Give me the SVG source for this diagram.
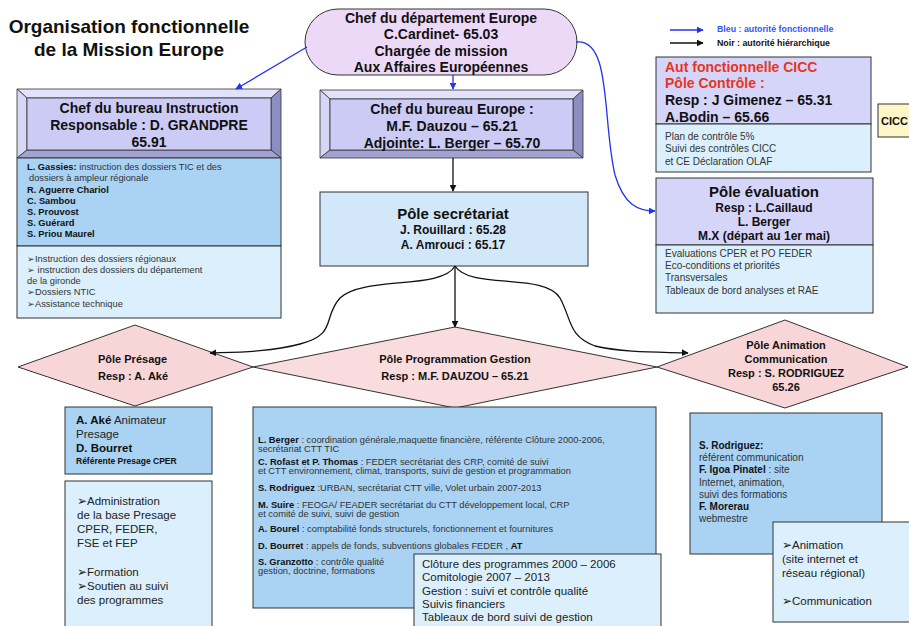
<svg xmlns="http://www.w3.org/2000/svg" width="909" height="626" viewBox="0 0 909 626">
<defs>
<marker id="ab" viewBox="0 0 10 10" refX="9" refY="5" markerWidth="7" markerHeight="7" orient="auto" markerUnits="userSpaceOnUse"><path d="M0,0 L10,5 L0,10 z" fill="#2233ee"/></marker>
<marker id="ak" viewBox="0 0 10 10" refX="9" refY="5" markerWidth="7" markerHeight="7" orient="auto" markerUnits="userSpaceOnUse"><path d="M0,0 L10,5 L0,10 z" fill="#111"/></marker>
</defs>
<style>
text{font-family:"Liberation Sans",Arial,sans-serif;fill:#111}
.b{font-weight:bold}
.h{font-size:14px;font-weight:bold;text-anchor:middle}
.s9{font-size:9.3px;fill:#333}
.s10{font-size:10px;fill:#333}
.s11{font-size:11.5px;fill:#222}
.s8{font-size:9.3px;fill:#333}
.bl{stroke:#2233ee;stroke-width:1.3;fill:none}
.bk{stroke:#111;stroke-width:1.3;fill:none}
.box{stroke:#333;stroke-width:1}
.mid{fill:#a9d2f3}
.lt{fill:#dbf0fc}
.lav{fill:#d5d5fa}
.dia{fill:#f8d6d8;stroke:#333;stroke-width:1}
.bev{stroke:#333;stroke-width:0.8}
</style>
<rect width="909" height="626" fill="#fff"/>

<g id="title">
<text x="129" y="33" class="b" font-size="19" text-anchor="middle">Organisation fonctionnelle</text>
<text x="129" y="56" class="b" font-size="19" text-anchor="middle">de la Mission Europe</text>
</g>

<g id="legend">
<line x1="670" y1="30" x2="703" y2="30" class="bl" marker-end="url(#ab)"/>
<text x="717" y="32" class="b" font-size="8.8" style="fill:#3355ff">Bleu : autorité fonctionnelle</text>
<line x1="670" y1="43" x2="703" y2="43" class="bk" marker-end="url(#ak)"/>
<text x="717" y="46" class="b" font-size="8.8">Noir :  autorité hiérarchique</text>
</g>

<g id="chef-departement">
<rect x="305" y="9" width="272" height="66" rx="33" fill="#ecd9f7" stroke="#333"/>
<text x="441" y="23" class="h">Chef du département Europe</text>
<text x="441" y="39" class="h">C.Cardinet- 65.03</text>
<text x="441" y="56" class="h">Chargée de mission</text>
<text x="441" y="72" class="h">Aux Affaires Européennes</text>
</g>

<g id="chef-instruction">
<polygon points="17,89 281,89 271,98 27,98" fill="#e2e2fb" class="bev"/>
<polygon points="17,89 27,98 27,150 17,158" fill="#d6d6f5" class="bev"/>
<polygon points="281,89 281,158 271,150 271,98" fill="#8d8dc0" class="bev"/>
<polygon points="17,158 281,158 271,150 27,150" fill="#a3a3d3" class="bev"/>
<rect x="27" y="98" width="244" height="52" fill="#cbcbf5" class="bev"/>
<text x="149" y="113" class="h">Chef du bureau Instruction</text>
<text x="149" y="130" class="h">Responsable : D. GRANDPRE</text>
<text x="149" y="147" class="h">65.91</text>
</g>

<g id="instruction-equipe">
<rect x="17" y="158" width="264" height="88" class="box mid"/>
<text x="27" y="170" class="s9"><tspan class="b" fill="#111">L. Gassies:</tspan> instruction des dossiers TIC et des</text>
<text x="29" y="181" class="s9">dossiers à ampleur régionale</text>
<text x="27" y="193" class="s9 b" style="fill:#111">R. Aguerre Chariol</text>
<text x="27" y="204" class="s9 b" style="fill:#111">C. Sambou</text>
<text x="27" y="215" class="s9 b" style="fill:#111">S. Prouvost</text>
<text x="27" y="226" class="s9 b" style="fill:#111">S. Guérard</text>
<text x="27" y="237" class="s9 b" style="fill:#111">S. Priou Maurel</text>
</g>
<g id="instruction-missions">
<rect x="17" y="246" width="264" height="72" class="box lt"/>
<text x="27" y="262" class="s9">➢Instruction des dossiers régionaux</text>
<text x="27" y="273" class="s9">➢ instruction des dossiers du département</text>
<text x="27" y="284" class="s9">de la gironde</text>
<text x="27" y="295" class="s9">➢Dossiers NTIC</text>
<text x="27" y="307" class="s9">➢Assistance technique</text>
</g>

<g id="chef-europe">
<polygon points="320,90 583,90 573,99 330,99" fill="#e2e2fb" class="bev"/>
<polygon points="320,90 330,99 330,150 320,158" fill="#d6d6f5" class="bev"/>
<polygon points="583,90 583,158 573,150 573,99" fill="#8d8dc0" class="bev"/>
<polygon points="320,158 583,158 573,150 330,150" fill="#a3a3d3" class="bev"/>
<rect x="330" y="99" width="243" height="51" fill="#cbcbf5" class="bev"/>
<text x="452" y="114" class="h">Chef du bureau Europe :</text>
<text x="452" y="131" class="h">M.F. Dauzou –  65.21</text>
<text x="452" y="148" class="h">Adjointe: L. Berger – 65.70</text>
</g>

<g id="pole-secretariat">
<rect x="320" y="192" width="268" height="74" fill="#d2e7fa" class="box"/>
<text x="453" y="219" class="b" font-size="15" text-anchor="middle">Pôle secrétariat</text>
<text x="453" y="234" class="b" font-size="12" text-anchor="middle">J. Rouillard :  65.28</text>
<text x="453" y="249" class="b" font-size="12" text-anchor="middle">A. Amrouci  :  65.17</text>
</g>

<g id="pole-controle">
<rect x="656" y="57" width="215" height="67" class="box lav"/>
<text x="665" y="72" class="b" font-size="14" style="fill:#e8361c">Aut fonctionnelle CICC</text>
<text x="665" y="88" class="b" font-size="14" style="fill:#e8361c">Pôle Contrôle :</text>
<text x="665" y="105" class="b" font-size="14">Resp : J Gimenez – 65.31</text>
<text x="665" y="122" class="b" font-size="14">A.Bodin – 65.66</text>
<rect x="656" y="124" width="215" height="48" class="box lt"/>
<text x="665" y="140" class="s10">Plan de contrôle 5%</text>
<text x="665" y="152" class="s10">Suivi des contrôles CICC</text>
<text x="665" y="165" class="s10">et CE Déclaration OLAF</text>
</g>

<g id="cicc">
<rect x="878" y="104" width="40" height="33" fill="#fdf7c8" class="box"/>
<text x="881" y="125" class="b" font-size="11">CICC</text>
</g>

<g id="pole-evaluation">
<rect x="656" y="178" width="217" height="67" class="box lav"/>
<text x="764" y="197" class="b" font-size="15" text-anchor="middle">Pôle évaluation</text>
<text x="764" y="212" class="b" font-size="12" text-anchor="middle">Resp : L.Caillaud</text>
<text x="764" y="226" class="b" font-size="12" text-anchor="middle">L. Berger</text>
<text x="764" y="240" class="b" font-size="12" text-anchor="middle">M.X (départ au 1er mai)</text>
<rect x="656" y="245" width="217" height="68" class="box lt"/>
<text x="665" y="257" class="s10">Evaluations CPER et PO FEDER</text>
<text x="665" y="269" class="s10">Eco-conditions et priorités</text>
<text x="665" y="281" class="s10">Transversales</text>
<text x="665" y="294" class="s10">Tableaux de bord analyses et RAE</text>
</g>

<g id="pole-presage">
<polygon points="18,367 135,325 253,367 135,406" class="dia"/>
<text x="98" y="363" class="b" font-size="11">Pôle Présage</text>
<text x="98" y="380" class="b" font-size="11">Resp : A. Aké</text>
</g>
<g id="pole-programmation">
<polygon points="253,367 455,327 657,367 455,408" class="dia" fill-opacity="0.85"/>
<text x="455" y="363" class="b" font-size="11" text-anchor="middle">Pôle Programmation Gestion</text>
<text x="455" y="380" class="b" font-size="11" text-anchor="middle">Resp :  M.F. DAUZOU – 65.21</text>
</g>
<g id="pole-animation">
<polygon points="657,367 785,320 908,367 785,408" class="dia"/>
<text x="786" y="349" class="b" font-size="11" text-anchor="middle">Pôle Animation</text>
<text x="786" y="363" class="b" font-size="11" text-anchor="middle">Communication</text>
<text x="786" y="377" class="b" font-size="11" text-anchor="middle">Resp : S. RODRIGUEZ</text>
<text x="786" y="391" class="b" font-size="11" text-anchor="middle">65.26</text>
</g>

<g id="presage-equipe">
<rect x="65" y="407" width="147" height="67" class="box mid"/>
<text x="76" y="424" class="s11"><tspan class="b" fill="#111">A. Aké</tspan> Animateur</text>
<text x="76" y="438" class="s11">Presage</text>
<text x="76" y="452" class="s11 b" style="fill:#111">D. Bourret</text>
<text x="76" y="464" class="b" font-size="8.5">Référente Presage CPER</text>
</g>
<g id="presage-missions">
<rect x="65" y="481" width="147" height="160" class="box lt"/>
<text x="77" y="505" class="s11">➢Administration</text>
<text x="77" y="519" class="s11">de la base Presage</text>
<text x="77" y="533" class="s11">CPER, FEDER,</text>
<text x="77" y="547" class="s11">FSE et FEP</text>
<text x="77" y="576" class="s11">➢Formation</text>
<text x="77" y="590" class="s11">➢Soutien au suivi</text>
<text x="77" y="604" class="s11">des programmes</text>
</g>

<g id="programmation-equipe">
<rect x="253" y="407" width="403" height="201" class="box mid"/>
<text x="258" y="443" class="s8"><tspan class="b" fill="#111">L. Berger</tspan> : coordination générale,maquette financière, référente Clôture 2000-2006,</text>
<text x="258" y="452" class="s8">secrétariat CTT TIC</text>
<text x="258" y="465" class="s8"><tspan class="b" fill="#111">C. Rofast et P. Thomas</tspan> : FEDER secrétariat des CRP, comité de suivi</text>
<text x="258" y="474" class="s8">et CTT environnement, climat, transports,  suivi de gestion et programmation</text>
<text x="258" y="491" class="s8"><tspan class="b" fill="#111">S. Rodriguez</tspan> :URBAN, secrétariat CTT ville,  Volet urbain 2007-2013</text>
<text x="258" y="508" class="s8"><tspan class="b" fill="#111">M. Suire</tspan> : FEOGA/ FEADER secrétariat du CTT développement local, CRP</text>
<text x="258" y="517" class="s8">et comité de suivi, suivi de gestion</text>
<text x="258" y="532" class="s8"><tspan class="b" fill="#111">A. Bourel</tspan> : comptabilité fonds structurels, fonctionnement et fournitures</text>
<text x="258" y="549" class="s8"><tspan class="b" fill="#111">D. Bourret</tspan> : appels de fonds,  subventions globales FEDER , <tspan class="b" fill="#111">AT</tspan></text>
<text x="258" y="565" class="s8"><tspan class="b" fill="#111">S. Granzotto</tspan> : contrôle qualité</text>
<text x="258" y="574" class="s8">gestion, doctrine, formations</text>
</g>
<g id="programmation-missions">
<rect x="414" y="554" width="247" height="90" class="box lt"/>
<text x="422" y="568" class="s11">Clôture des programmes 2000 – 2006</text>
<text x="422" y="581" class="s11">Comitologie 2007 – 2013</text>
<text x="422" y="595" class="s11">Gestion : suivi et contrôle qualité</text>
<text x="422" y="608" class="s11">Suivis financiers</text>
<text x="422" y="621" class="s11">Tableaux de bord suivi de gestion</text>
</g>

<g id="animation-equipe">
<rect x="690" y="413" width="192" height="141" class="box mid"/>
<text x="699" y="449" class="s10 b" style="fill:#111">S. Rodriguez:</text>
<text x="699" y="461" class="s10">référent communication</text>
<text x="699" y="473" class="s10"><tspan class="b" fill="#111">F. Igoa Pinatel</tspan> : site</text>
<text x="699" y="486" class="s10">Internet, animation,</text>
<text x="699" y="498" class="s10">suivi des formations</text>
<text x="699" y="510" class="s10 b" style="fill:#111">F. Morerau</text>
<text x="699" y="522" class="s10">webmestre</text>
</g>
<g id="animation-missions">
<rect x="773" y="522" width="150" height="100" class="box lt"/>
<text x="782" y="549" class="s11">➢Animation</text>
<text x="782" y="563" class="s11">(site internet et</text>
<text x="782" y="577" class="s11">réseau régional)</text>
<text x="782" y="605" class="s11">➢Communication</text>
</g>

<g id="connectors">
<path d="M307,47 L236,89" class="bl" marker-end="url(#ab)"/>
<path d="M453,75 L453,89" class="bl" marker-end="url(#ab)"/>
<path d="M576,42 C612,38 602,120 615,175 C624,205 638,211 655,211" class="bl" marker-end="url(#ab)"/>
<path d="M453,158 L453,191" class="bk" marker-end="url(#ak)"/>
<path d="M455,266 L455,327" class="bk" marker-end="url(#ak)"/>
<path d="M455,266 C442,290 362,276 340,298 C322,318 338,334 300,344 C270,352 240,352 210,353" class="bk" marker-end="url(#ak)"/>
<path d="M455,266 C470,290 545,272 560,298 C572,320 568,336 595,346 C625,353 660,352 688,353" class="bk" marker-end="url(#ak)"/>
</g>
</svg>
